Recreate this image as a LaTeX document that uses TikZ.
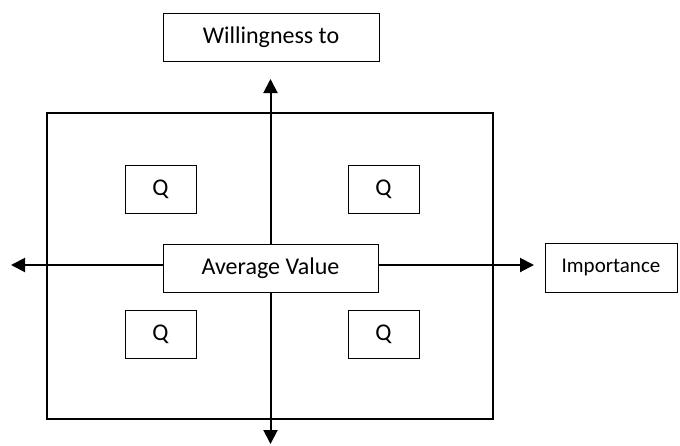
\documentclass[tikz,border=0pt]{standalone}
\usepackage{fontspec}
\setmainfont{Carlito}
\usepackage{xcolor}
\usetikzlibrary{positioning,arrows.meta}
\definecolor{LineDark}{HTML}{000000}

\begin{document}
\begin{tikzpicture}[x=1pt,y=-1pt,
    labelbox/.style={draw=LineDark, line width=1pt, fill=white, inner sep=0pt,
                     minimum height=48pt, text=LineDark, font=\fontsize{24pt}{28pt}\selectfont},
    qbox/.style={labelbox, minimum width=71pt},
    axis/.style={line width=2pt, draw=LineDark,
                 {Triangle[length=14pt,width=14pt]}-{Triangle[length=14pt,width=14pt]}}]
  \useasboundingbox (0,0) rectangle (680,445);
  % outer frame
  \draw[line width=2pt, LineDark] (47,113) rectangle (493,419);
  % axis ends
  \coordinate (vbot) at (270.5,444);
  \coordinate (vtop) at (270.5,79);
  \coordinate (hleft) at (11,265);
  \coordinate (hright) at (534,265);
  \draw[axis] (vbot) -- (vtop);
  \draw[axis] (hleft) -- (hright);
  % labels
  \node[labelbox, minimum width=216pt] (willing) at (271,37) {Willingness to};
  \node[labelbox, minimum width=215pt] (average) at (270.5,268) {Average Value};
  \node[labelbox, minimum width=132pt, minimum height=49pt,
        font=\fontsize{21pt}{24pt}\selectfont] (importance) at (611,267.5) {Importance};
  % quadrants
  \node[qbox] (qtl) at (160.5,189.5) {Q};
  \node[qbox] (qtr) at (383.5,189.5) {Q};
  \node[qbox] (qbl) at (160.5,334) {Q};
  \node[qbox] (qbr) at (383.5,334) {Q};
\end{tikzpicture}
\end{document}
